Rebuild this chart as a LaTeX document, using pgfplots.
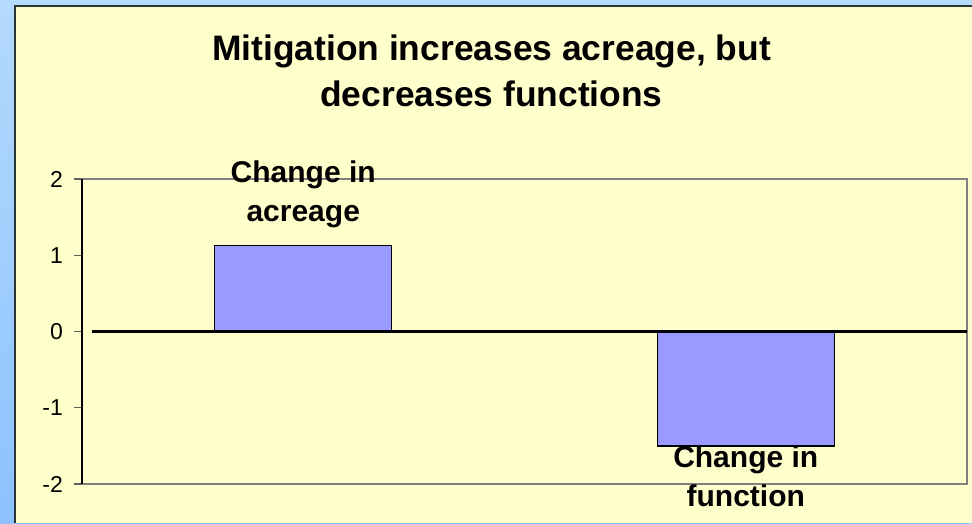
\documentclass[border=0pt]{standalone}
\usepackage{pgfplots}
\pgfplotsset{compat=1.18}
\usepackage{fontspec}
\setmainfont{Liberation Sans}
\definecolor{bgyellow}{HTML}{FFFFCC}
\definecolor{barblue}{HTML}{9999FF}
\definecolor{bluetop}{HTML}{B4DAFC}
\definecolor{bluebot}{HTML}{8CC2FF}
\definecolor{framegray}{HTML}{808080}
\definecolor{tickgray}{HTML}{606060}
\definecolor{edgedark}{HTML}{2A3434}
\begin{document}
\begin{tikzpicture}[x=1pt,y=1pt]
\shade[top color=bluetop,bottom color=bluebot] (0,0) rectangle (972,523);
\fill[bgyellow] (15,0) rectangle (972,517);
\draw[edgedark, line width=2pt] (15,0) -- (15,517) -- (972,517);
\node[anchor=base, font=\fontsize{35.4}{40}\selectfont\bfseries] at (491.5,462.3) {Mitigation increases acreage, but};
\node[anchor=base, font=\fontsize{35.4}{40}\selectfont\bfseries] at (491.5,416) {decreases functions};
\begin{axis}[
  at={(82pt,39pt)}, anchor=south west,
  scale only axis, width=885pt, height=305pt,
  xmin=-0.5, xmax=1.5, ymin=-2, ymax=2,
  ytick={-2,-1,0,1,2}, yticklabels={-2,-1,0,1,2},
  xtick=\empty, ytick pos=left, tick align=outside,
  major tick length=8pt,
  tick style={color=tickgray, line width=1.2pt},
  axis line style={framegray, line width=1.5pt},
  yticklabel style={font=\fontsize{23}{27}\selectfont, inner sep=0pt, xshift=-11pt},
  clip=false,
]
\addplot[ybar, bar width=0.4, fill=barblue, draw=black, line width=1.3pt] coordinates {(0,1.13) (1,-1.5)};
\draw[black, line width=3pt] (axis cs:-0.477,0) -- (axis cs:1.5,0);
\draw[black, line width=1.2pt] (rel axis cs:0,0) -- (rel axis cs:0,1);
\node[anchor=base, font=\fontsize{30}{34}\selectfont\bfseries, yshift=62.8pt] at (axis cs:0,1.13) {Change in};
\node[anchor=base, font=\fontsize{30}{34}\selectfont\bfseries, yshift=24.1pt] at (axis cs:0,1.13) {acreage};
\node[anchor=base, font=\fontsize{30}{34}\selectfont\bfseries, yshift=-21.6pt] at (axis cs:1,-1.5) {Change in};
\node[anchor=base, font=\fontsize{30}{34}\selectfont\bfseries, yshift=-60.6pt] at (axis cs:1,-1.5) {function};
\end{axis}
\pgfresetboundingbox
\useasboundingbox (0,0) rectangle (972,523);
\end{tikzpicture}
\end{document}
